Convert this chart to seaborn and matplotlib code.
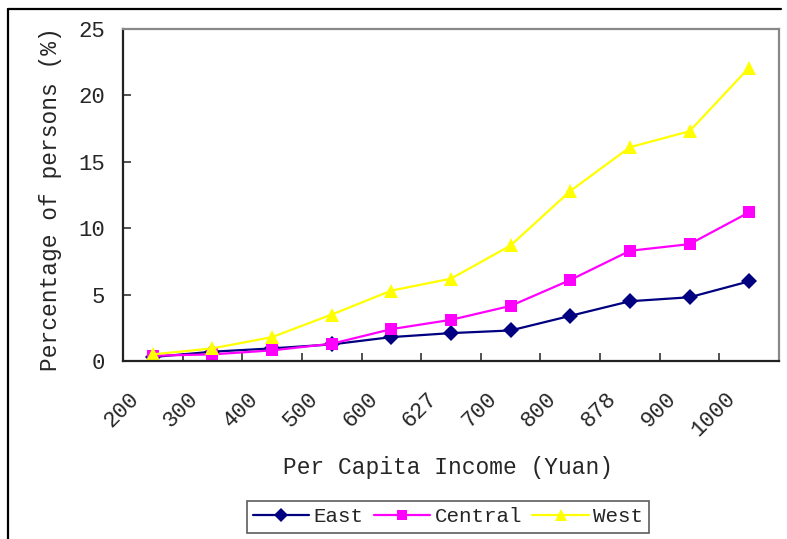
import pandas as pd
import matplotlib
matplotlib.use('Agg')
import matplotlib.pyplot as plt
import seaborn as sns
from matplotlib.lines import Line2D
from matplotlib.transforms import ScaledTranslation

# data
income = ['200', '300', '400', '500', '600', '627', '700', '800', '878', '900', '1000']
east = [0.3, 0.7, 0.95, 1.25, 1.8, 2.1, 2.3, 3.4, 4.5, 4.8, 6.0]
central = [0.4, 0.5, 0.8, 1.3, 2.4, 3.1, 4.15, 6.1, 8.3, 8.8, 11.2]
west = [0.5, 0.95, 1.8, 3.5, 5.3, 6.2, 8.7, 12.8, 16.1, 17.3, 22.1]

series = ['East', 'Central', 'West']
colors = ['#000080', '#FF00FF', '#FFFF00']
markers = ['D', 's', '^']
msizes = [8.5, 8.5, 10.5]

sns.set_style('white')
plt.rcParams['font.family'] = ['Liberation Mono', 'DejaVu Sans']
plt.rcParams.update({'xtick.bottom': True, 'ytick.left': True})

df = pd.DataFrame({'income': income, 'East': east, 'Central': central, 'West': west})
long_df = df.melt(id_vars='income', var_name='region', value_name='pct')

fig = plt.figure(figsize=(7.87, 5.39), dpi=100)
ax = fig.add_axes([123 / 787, 1 - 361 / 539, (779 - 123) / 787, (361 - 29) / 539])

for name, c, m, ms in zip(series, colors, markers, msizes):
    sub = long_df[long_df['region'] == name]
    sns.lineplot(data=sub, x='income', y='pct', ax=ax, color=c, marker=m,
                 markersize=ms, markeredgewidth=0, linewidth=1.6, label=name,
                 legend=False)

ax.set_xlim(-0.5, len(income) - 0.5)
ax.set_ylim(0, 25)
ax.set_yticks([0, 5, 10, 15, 20, 25])

# category boundaries as inward minor ticks
ax.set_xticks(range(len(income)))
ax.set_xticklabels(income)
ax.set_xticks([i - 0.5 for i in range(len(income) + 1)], minor=True)
ax.tick_params(axis='x', which='major', bottom=False, length=0, labelsize=16, pad=6)
ax.tick_params(axis='x', which='minor', bottom=True, direction='in', length=6, width=1.2, color='#333333')
ax.tick_params(axis='y', which='major', left=True, direction='in', length=6, width=1.2,
               color='#333333', labelsize=16, pad=13)
for lab in ax.get_xticklabels():
    lab.set_rotation(45)
    lab.set_ha('right')
    lab.set_va('center')
    lab.set_rotation_mode('anchor')
    lab.set_transform(lab.get_transform() + ScaledTranslation(-0.17, -0.26, fig.dpi_scale_trans))

for side in ['left', 'bottom']:
    ax.spines[side].set_color('#222222')
    ax.spines[side].set_linewidth(1.6)
for side in ['top', 'right']:
    ax.spines[side].set_visible(True)
    ax.spines[side].set_color('#888888')
    ax.spines[side].set_linewidth(1.6)

ax.set_xlabel('Per Capita Income (Yuan)', fontsize=16.5, va='center')
ax.xaxis.set_label_coords(0.495, -0.322)
ax.set_ylabel('Percentage of persons (%)', fontsize=16.5, va='center')
ax.yaxis.set_label_coords(-0.111, 0.488)

handles = [Line2D([], [], color=c, marker=m, markersize=ms * 0.85, markeredgewidth=0, linewidth=1.6)
           for c, m, ms in zip(colors, markers, msizes)]
leg = fig.legend(handles, series, loc='center', bbox_to_anchor=(448 / 787, 1 - 517 / 539),
                 ncol=3, fontsize=15, frameon=True, fancybox=False, edgecolor='#333333',
                 handlelength=2.7, handletextpad=0.2, columnspacing=0.5,
                 borderpad=0.3, borderaxespad=0)
leg.get_frame().set_linewidth(1.2)

# outer chart border (left and top visible)
fig.add_artist(Line2D([8 / 787, 8 / 787], [0, 1 - 9 / 539], color='black', linewidth=1.6))
fig.add_artist(Line2D([8 / 787, 781 / 787], [1 - 9 / 539, 1 - 9 / 539], color='black', linewidth=1.6))

fig.savefig('out.png', dpi=100)
